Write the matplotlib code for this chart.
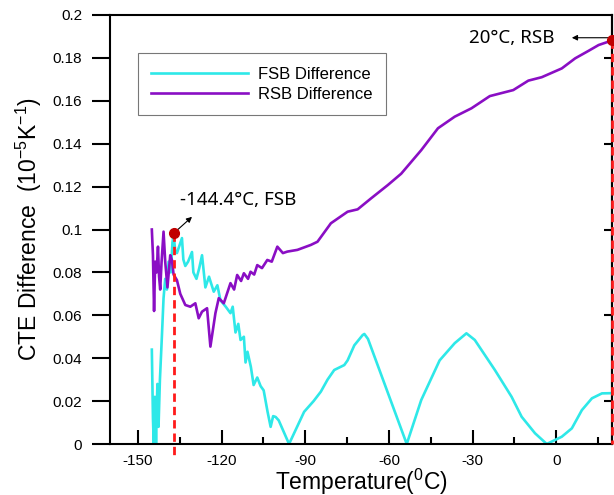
import matplotlib
matplotlib.use("Agg")
import matplotlib.pyplot as plt
from matplotlib.ticker import MultipleLocator

plt.rcParams['font.family'] = ['Liberation Sans', 'DejaVu Sans']
plt.rcParams['mathtext.fontset'] = 'custom'
plt.rcParams['mathtext.rm'] = 'Liberation Sans'
plt.rcParams['mathtext.it'] = 'Liberation Sans:italic'
plt.rcParams['axes.unicode_minus'] = False

# FSB difference (temperature in C, CTE difference in 1e-5/K)
fsb_t = [-145.0, -144.6, -144.3, -143.9, -143.5, -143.0, -142.6, -142.1, -141.4, -140.8,
         -140.2, -139.6, -139.0, -138.2, -137.6, -137.2, -136.6, -136.0, -134.2, -133.7,
         -133.0, -132.0, -130.6, -130.1, -129.0, -128.0, -127.0, -125.8, -124.5, -122.8,
         -121.5, -120.4, -118.5, -116.8, -116.0, -115.0, -114.0, -113.2, -112.0, -111.4,
         -110.7, -109.5, -108.5, -107.2, -106.0, -104.9, -103.5, -102.4, -101.5, -100.6,
         -99.5, -95.8, -90.4, -87.0, -84.4, -82.0, -79.6, -76.0, -74.8, -72.4,
         -69.4, -68.8, -67.5, -53.6, -48.4, -41.8, -36.4, -32.2, -29.2, -22.0,
         -16.0, -12.4, -7.6, -3.4, 2.0, 5.6, 9.2, 12.8, 16.4, 20.0]
fsb_v = [0.044, 0.012, 0.0, 0.022, 0.0, 0.028, 0.008, 0.030, 0.050, 0.068,
         0.077, 0.072, 0.085, 0.080, 0.094, 0.0975, 0.090, 0.089, 0.096, 0.086,
         0.083, 0.085, 0.0895, 0.080, 0.077, 0.082, 0.088, 0.073, 0.078, 0.071,
         0.074, 0.067, 0.064, 0.061, 0.064, 0.052, 0.056, 0.0485, 0.050, 0.038,
         0.043, 0.036, 0.0275, 0.031, 0.027, 0.025, 0.015, 0.008, 0.013, 0.0126,
         0.011, 0.0, 0.015, 0.020, 0.0244, 0.030, 0.0345, 0.0368, 0.039, 0.046,
         0.0508, 0.0513, 0.049, 0.0, 0.0205, 0.039, 0.047, 0.0516, 0.0485, 0.0345,
         0.022, 0.0127, 0.005, 0.0, 0.0034, 0.0073, 0.0158, 0.0213, 0.0236, 0.0237]

# RSB difference
rsb_t = [-145.0, -144.6, -144.2, -143.8, -143.3, -142.8, -142.4, -142.0, -141.5, -140.8,
         -140.2, -139.4, -138.8, -138.4, -137.8, -137.2, -136.0, -134.8, -133.0, -131.2,
         -129.4, -128.2, -127.0, -125.2, -124.0, -122.2, -121.0, -119.2, -116.8, -115.5,
         -114.4, -113.0, -112.0, -110.5, -109.6, -108.3, -107.2, -105.5, -103.6, -102.0,
         -100.0, -98.0, -96.4, -92.8, -88.0, -85.6, -80.8, -74.8, -71.2, -66.4,
         -60.4, -55.6, -48.4, -42.4, -36.4, -30.4, -23.8, -15.4, -10.0, -5.2,
         2.0, 6.8, 11.6, 15.2, 18.8, 20.0]
rsb_v = [0.100, 0.088, 0.062, 0.085, 0.080, 0.092, 0.078, 0.072, 0.085, 0.099,
         0.085, 0.073, 0.082, 0.088, 0.0858, 0.079, 0.0764, 0.070, 0.0648, 0.064,
         0.0656, 0.0586, 0.0617, 0.0633, 0.0454, 0.061, 0.068, 0.0656, 0.075, 0.072,
         0.0788, 0.076, 0.0796, 0.077, 0.0803, 0.079, 0.0834, 0.082, 0.0858, 0.085,
         0.092, 0.089, 0.0897, 0.0905, 0.0928, 0.0943, 0.1029, 0.1083, 0.1094, 0.1145,
         0.1207, 0.126, 0.137, 0.1472, 0.1526, 0.1565, 0.1622, 0.165, 0.1694, 0.171,
         0.1751, 0.1798, 0.1833, 0.186, 0.1876, 0.1883]

fsb_peak = (-137.2, 0.0982)
rsb_end = (20.0, 0.1883)

x_ticks = [-150, -120, -90, -60, -30, 0]
y_ticks = [0, 0.02, 0.04, 0.06, 0.08, 0.1, 0.12, 0.14, 0.16, 0.18, 0.2]
y_tick_labels = ['0', '0.02', '0.04', '0.06', '0.08', '0.1', '0.12', '0.14', '0.16', '0.18', '0.2']
right_ticks = [0.02, 0.06, 0.10, 0.14, 0.18]

fig = plt.figure(figsize=(6.14, 4.95), dpi=100)
ax = fig.add_axes([110/614, 51/495, 502/614, 429/495])

ax.plot(fsb_t, fsb_v, color='#2EE8E8', lw=1.9, label='FSB Difference')
ax.plot(rsb_t, rsb_v, color='#8A0EC4', lw=1.9, label='RSB Difference')

# red dashed markers
ax.plot([fsb_peak[0], fsb_peak[0]], [fsb_peak[1], -0.005], color='#FF1A1A', lw=2,
        ls=(0, (3, 1.8)), clip_on=False, zorder=4)
ax.plot([rsb_end[0], rsb_end[0]], [rsb_end[1], 0], color='#FF1A1A', lw=2,
        ls=(0, (3, 1.8)), clip_on=False, zorder=4)
ax.plot(*fsb_peak, 'o', color='#C00000', ms=7, clip_on=False, zorder=5)
ax.plot(*rsb_end, 'o', color='#C00000', ms=7, clip_on=False, zorder=5)

ax.annotate('-144.4°C, FSB', xy=(-130.6, 0.1059), xytext=(-134.8, 0.1137),
            fontsize=13.5, family=['Noto Sans', 'DejaVu Sans'], va='center', ha='left')
ax.annotate('', xy=(-130.6, 0.1059), xytext=fsb_peak,
            arrowprops=dict(arrowstyle='-|>', color='black', lw=0.8, mutation_scale=8,
                            shrinkA=3, shrinkB=0))
ax.annotate('20°C, RSB', xy=(5.6, 0.1894), xytext=(-0.5, 0.1894),
            fontsize=13.5, family=['Noto Sans', 'DejaVu Sans'], va='center', ha='right')
ax.annotate('', xy=(5.6, 0.1894), xytext=(20.3, 0.1894),
            arrowprops=dict(arrowstyle='-|>', color='black', lw=0.8, mutation_scale=8,
                            shrinkA=0, shrinkB=0), annotation_clip=False)

ax.set_xlim(-160, 20)
ax.set_ylim(0, 0.2)
ax.set_xticks(x_ticks)
ax.xaxis.set_minor_locator(MultipleLocator(15))
ax.set_yticks(y_ticks)
ax.set_yticklabels(y_tick_labels)

for s in ax.spines.values():
    s.set_linewidth(1.5)
ax.tick_params(axis='x', which='major', direction='in', length=10, width=1.5, labelsize=11, pad=7)
ax.tick_params(axis='x', which='minor', direction='in', length=5, width=1.5)
ax.tick_params(axis='y', direction='out', length=13, width=1.5, labelsize=11, pad=7)

sec = ax.secondary_yaxis('right')
sec.set_yticks(right_ticks)
sec.tick_params(direction='in', length=6, width=1.5, labelright=False)
sec.spines['right'].set_linewidth(1.5)

ax.set_xlabel('Temperature($^0$C)', fontsize=16.5, labelpad=-1)
ax.set_ylabel('CTE Difference  (10$^{-5}$K$^{-1}$)', fontsize=16.5, labelpad=6)

leg = ax.legend(loc='upper left', bbox_to_anchor=(0.056, 0.911), fontsize=12,
                frameon=True, fancybox=False, edgecolor='#555555', handlelength=5.8,
                labelspacing=0.3, borderpad=0.8, handletextpad=0.6, borderaxespad=0)
leg.get_frame().set_linewidth(0.8)

fig.savefig('out.png', dpi=100)
